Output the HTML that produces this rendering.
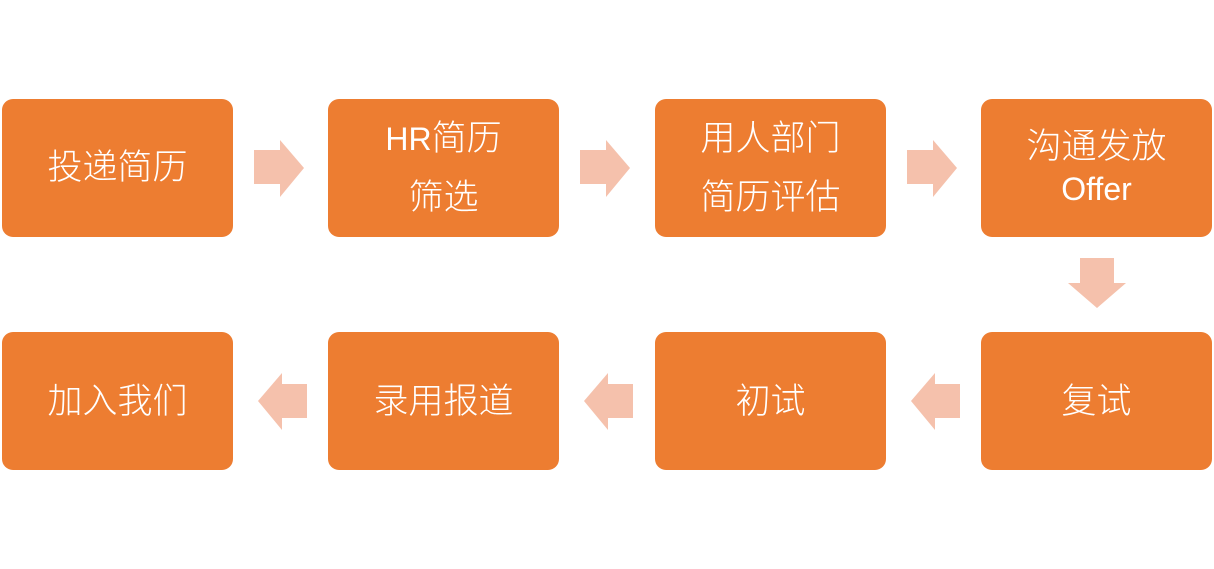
<html><head><style>
body{margin:0;width:1214px;height:569px;background:#fff;position:relative;overflow:hidden;font-family:"Liberation Sans","Noto Sans CJK SC",sans-serif}
.b{position:absolute;width:231px;height:138px;background:#ED7D31;border-radius:11px;color:#fff;font-size:35px;font-weight:300}
.t{position:absolute;left:0;width:100%;text-align:center;line-height:40px}
.l{font-weight:normal;font-size:32px}
svg{position:absolute;left:0;top:0}
</style></head><body>
<div class="b" style="left:2px;top:99px"><div class="t" style="top:49px">投递简历</div></div>
<div class="b" style="left:328px;top:99px"><div class="t" style="top:20px"><span class="l">HR</span>简历</div><div class="t" style="top:79px">筛选</div></div>
<div class="b" style="left:655px;top:99px"><div class="t" style="top:20px">用人部门</div><div class="t" style="top:79px">简历评估</div></div>
<div class="b" style="left:981px;top:99px"><div class="t" style="top:28px">沟通发放</div><div class="t" style="top:70px"><span class="l">Offer</span></div></div>
<div class="b" style="left:2px;top:332px"><div class="t" style="top:50px">加入我们</div></div>
<div class="b" style="left:328px;top:332px"><div class="t" style="top:50px">录用报道</div></div>
<div class="b" style="left:655px;top:332px"><div class="t" style="top:50px">初试</div></div>
<div class="b" style="left:981px;top:332px"><div class="t" style="top:50px">复试</div></div>
<svg width="1214" height="569" fill="#F5C1AC">
<polygon points="254,150 280,150 280,140 304,168 280,197 280,184 254,184"/>
<polygon points="580,150 606,150 606,140 630,168 606,197 606,184 580,184"/>
<polygon points="907,150 933,150 933,140 957,168 933,197 933,184 907,184"/>
<polygon points="1080,258 1114,258 1114,283 1126,283 1097,308 1068,283 1080,283"/>
<polygon points="307,384 282,384 282,373 258,401 282,430 282,418 307,418"/>
<polygon points="633,384 608,384 608,373 584,401 608,430 608,418 633,418"/>
<polygon points="960,384 935,384 935,373 911,401 935,430 935,418 960,418"/>
</svg>
</body></html>
